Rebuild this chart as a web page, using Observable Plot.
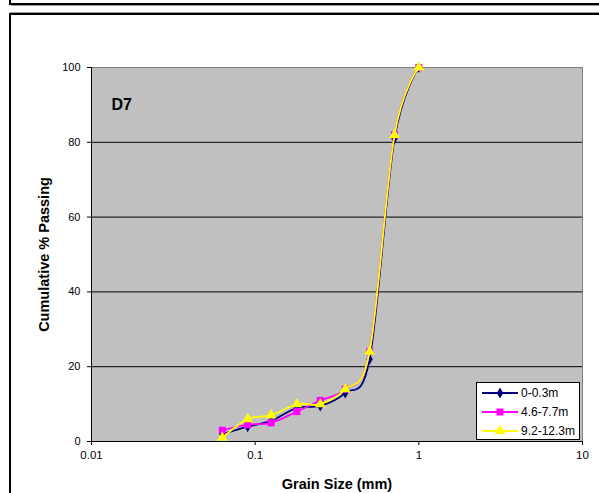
<!DOCTYPE html>
<html>
<head>
<meta charset="utf-8">
<script src="https://cdn.jsdelivr.net/npm/d3@7"></script>
<script src="https://cdn.jsdelivr.net/npm/@observablehq/plot@0.6"></script>
<style>
  body { margin: 0; background: #fff; }
  #page { position: relative; width: 599px; height: 493px; overflow: hidden; font-family: "Liberation Sans", Arial, sans-serif; }
  #page svg { position: absolute; left: 0; top: 0; }
  .edge { position: absolute; background: #000; }
  .edge.shade { background: #9a9a9a; }
</style>
</head>
<body>
<div id="page">
  <!-- bottom edge of the chart box above -->
  <div class="edge" style="left:9px;top:0;width:2px;height:5px"></div>
  <div class="edge" style="left:9px;top:3px;width:590px;height:2px"></div>
  <div class="edge shade" style="left:11px;top:5px;width:588px;height:1px"></div>
  <!-- this chart's box -->
  <div class="edge shade" style="left:10px;top:12px;width:589px;height:1px"></div>
  <div class="edge" style="left:9px;top:13px;width:590px;height:2px"></div>
  <div class="edge" style="left:9px;top:13px;width:2px;height:480px"></div>
</div>
<script>
// Sieve sizes (mm) and cumulative % passing for borehole D7 at three depths
const sieveSizes = [0.063, 0.09, 0.125, 0.18, 0.25, 0.355, 0.5, 0.71, 1.0];
const seriesNames = ["0-0.3m", "4.6-7.7m", "9.2-12.3m"];
const passingShallow = [2, 4, 5.5, 9, 9.5, 13, 22, 81, 100];
const passingMid = [3, 4.5, 5, 8, 11, 14, 24, 82, 100];
const passingDeep = [1, 6, 7, 10, 10, 14, 24, 82, 100];
const seriesColors = ["#000080", "#ff00ff", "#ffff00"];
const seriesSymbols = ["diamond", "square", "triangle"];
const yTicks = [0, 20, 40, 60, 80, 100];
const gridLines = [20, 40, 60, 80];
const xTicks = [0.01, 0.1, 1, 10];
const xTickLabels = ["0.01", "0.1", "1", "10"];
const chartLabel = "D7";
const xTitle = "Grain Size (mm)";
const yTitle = "Cumulative % Passing";

const seriesValues = [passingShallow, passingMid, passingDeep];
const rows = seriesNames.map((name, s) =>
  sieveSizes.map((size, i) => ({ size, pct: seriesValues[s][i], series: name }))
);

const font = "'Liberation Sans', Arial, sans-serif";

const seriesMarks = rows.flatMap((data, s) => [
  Plot.line(data, {
    x: "size", y: "pct",
    stroke: seriesColors[s], strokeWidth: 1.8,
    curve: "cardinal", tension: 0
  }),
  Plot.dot(data, {
    x: "size", y: "pct",
    symbol: seriesSymbols[s], fill: seriesColors[s],
    r: s === 0 ? 3.4 : 4, stroke: "none"
  })
]);

const chart = Plot.plot({
  width: 599,
  height: 493,
  marginLeft: 91,
  marginRight: 17,
  marginTop: 67,
  marginBottom: 52,
  style: { fontFamily: font, fontSize: "11px", background: "transparent", color: "#000" },
  x: { type: "log", domain: [0.01, 10] },
  y: { domain: [0, 100] },
  marks: [
    Plot.frame({ fill: "#c0c0c0", stroke: "#808080" }),
    Plot.ruleY(gridLines, { stroke: "#000", strokeWidth: 1 }),
    Plot.ruleX([xTicks[0]], { stroke: "#000", strokeWidth: 1 }),
    Plot.ruleY([yTicks[0]], { stroke: "#000", strokeWidth: 1 }),
    Plot.axisY({ ticks: yTicks, tickSize: 4, tickPadding: 7, label: null, fontSize: 11 }),
    Plot.axisX({
      ticks: xTicks, tickSize: 4, tickPadding: 5, label: null, fontSize: 11.5,
      tickFormat: d => xTickLabels[xTicks.indexOf(d)]
    }),
    ...seriesMarks,
    Plot.text([chartLabel], {
      frameAnchor: "top-left", textAnchor: "start", lineAnchor: "middle",
      dx: 20, dy: 37, fontWeight: "bold", fontSize: 16
    }),
    Plot.text([yTitle], {
      frameAnchor: "left", textAnchor: "middle", lineAnchor: "middle",
      rotate: -90, dx: -47, fontWeight: "bold", fontSize: 14.5
    }),
    Plot.text([xTitle], {
      frameAnchor: "bottom", textAnchor: "middle", lineAnchor: "middle",
      dy: 43, fontWeight: "bold", fontSize: 14.5
    })
  ]
});

document.getElementById("page").appendChild(chart);

// Legend box in the lower right corner of the plot area
const svg = d3.select(chart);
const legend = svg.append("g").attr("transform", "translate(476,382)");
legend.append("rect")
  .attr("x", 0.5).attr("y", 0.5).attr("width", 103).attr("height", 57)
  .attr("fill", "#fff").attr("stroke", "#000");
const symbolGen = d3.symbol();
const d3Symbols = { diamond: d3.symbolDiamond, square: d3.symbolSquare, triangle: d3.symbolTriangle };
seriesNames.forEach((name, s) => {
  const cy = 11 + s * 19;
  legend.append("line")
    .attr("x1", 6).attr("x2", 42).attr("y1", cy).attr("y2", cy)
    .attr("stroke", seriesColors[s]).attr("stroke-width", 1.8);
  legend.append("path")
    .attr("transform", `translate(24,${cy})`)
    .attr("d", symbolGen.type(d3Symbols[seriesSymbols[s]]).size(s === 0 ? 36 : 50)())
    .attr("fill", seriesColors[s]);
  legend.append("text")
    .attr("x", 45).attr("y", cy).attr("dy", "0.35em")
    .attr("text-anchor", "start")
    .attr("font-family", font).attr("font-size", 12)
    .text(name);
});
</script>
</body>
</html>
